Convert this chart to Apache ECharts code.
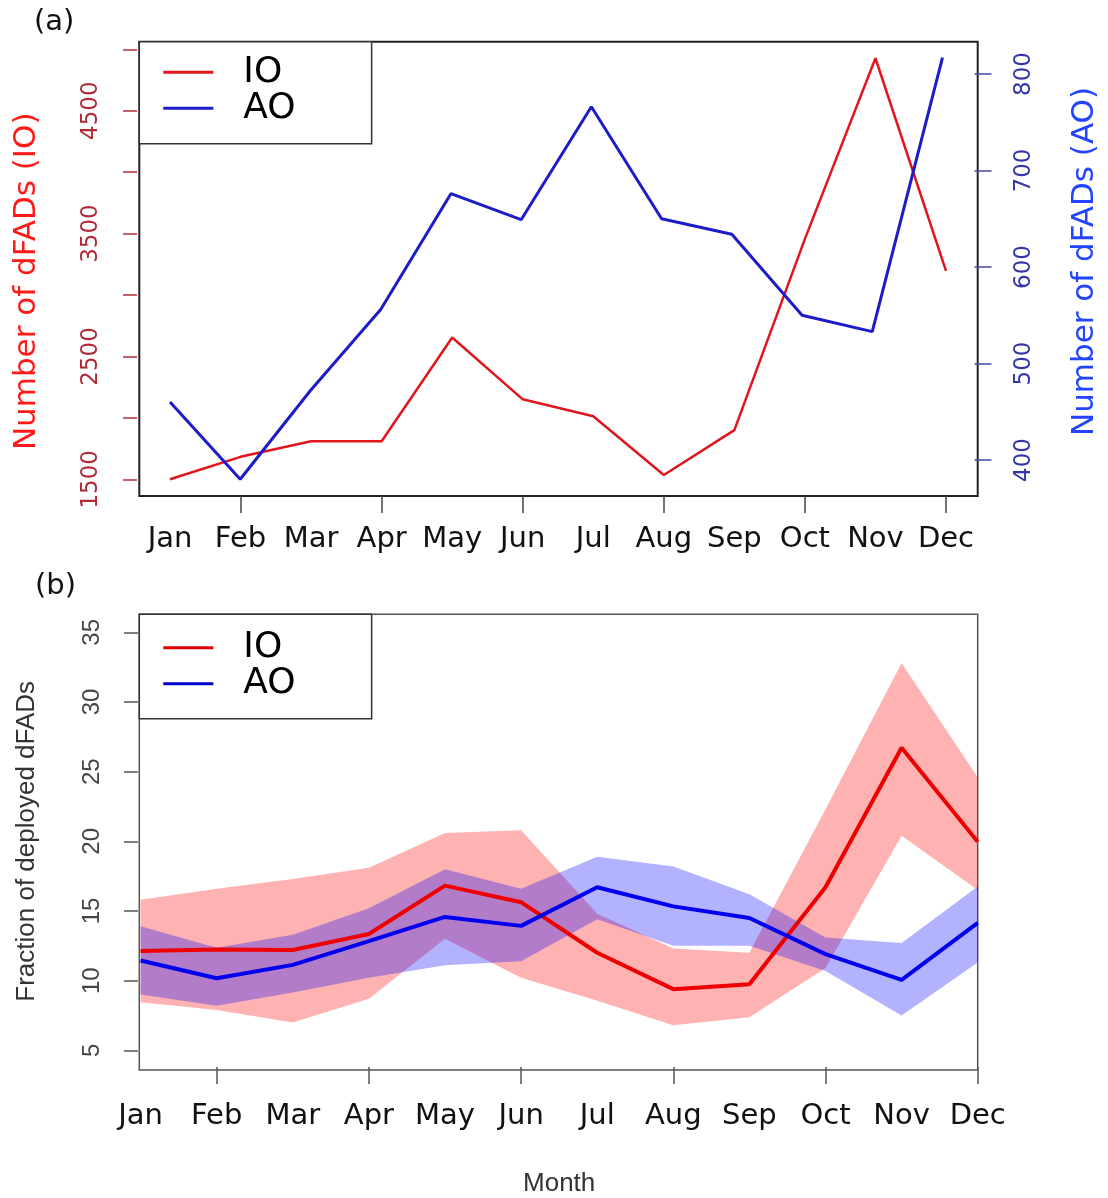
<!DOCTYPE html>
<html><head><meta charset="utf-8">
<script src="https://cdn.jsdelivr.net/npm/echarts@6/dist/echarts.min.js"></script>
<style>html,body{margin:0;padding:0;background:#fff}#c{width:1108px;height:1198px}</style>
</head><body><div id="c"></div>
<script>
// ---- data ----
const months = ['Jan','Feb','Mar','Apr','May','Jun','Jul','Aug','Sep','Oct','Nov','Dec'];
// panel (a): number of deployed dFADs
const ioCount = [1500, 1683, 1810, 1810, 2654, 2151, 2013, 1535, 1900, 3457, 4927, 3197];
const aoCount = [460, 380, 472, 556, 676, 649, 766, 650, 634, 550, 533, 817];
const ioLabelTicks = [1500, 2500, 3500, 4500];
// panel (b): fraction of deployed dFADs (mean and range)
const ioFrac  = [12.12, 12.24, 12.2, 13.35, 16.82, 15.63, 12.0, 9.39, 9.74, 16.7, 26.72, 19.96];
const ioUpper = [15.8, 16.6, 17.3, 18.1, 20.6, 20.8, 14.8, 12.3, 12.0, 22.3, 32.8, 24.6];
const ioLower = [8.44, 7.9, 7.0, 8.7, 13.0, 10.2, 8.56, 6.8, 7.37, 10.9, 20.4, 16.5];
const aoFrac  = [11.45, 10.17, 11.13, 12.83, 14.57, 13.93, 16.7, 15.33, 14.5, 11.9, 10.05, 14.14];
const aoUpper = [13.9, 12.36, 13.3, 15.2, 18.0, 16.6, 18.9, 18.2, 16.2, 13.1, 12.7, 16.75];
const aoLower = [9.0, 8.2, 9.15, 10.2, 11.1, 11.4, 14.4, 12.5, 12.5, 10.7, 7.5, 11.3];

const DJ = 'DejaVu Sans';
const LS = 'Liberation Sans';
const span = (u, l) => u.map((v, i) => +(v - l[i]).toFixed(3));

const chart = echarts.init(document.getElementById('c'), null, {renderer: 'canvas'});

const hiddenAxis = (g) => ({gridIndex: g, type: 'value', show: false});
const oddTicks = (i) => i % 2 === 1;

const option = {
  animation: false,
  backgroundColor: '#fff',
  grid: [
    {left: 139.3, top: 41.7, width: 838.4, height: 454.3, show: true, borderColor: '#222', borderWidth: 2, backgroundColor: 'transparent'},
    {left: 170, top: 49.3, width: 776, height: 430},
    {left: 170, top: 74, width: 776, height: 386},
    {left: 139.3, top: 614.3, width: 838.4, height: 455.7, show: true, borderColor: '#555', borderWidth: 1.5, backgroundColor: 'transparent'},
    {left: 140.6, top: 632.3, width: 837.1, height: 421}
  ],
  xAxis: [
    hiddenAxis(0),
    {gridIndex: 1, type: 'category', data: months, boundaryGap: false, offset: 16.7,
     axisLine: {show: false},
     axisTick: {show: true, interval: oddTicks, length: 17, lineStyle: {color: '#444', width: 1.5}},
     axisLabel: {interval: 0, margin: 29, fontSize: 29, fontFamily: DJ, color: '#111'},
     splitLine: {show: false}},
    {gridIndex: 2, type: 'category', data: months, boundaryGap: false, show: false},
    hiddenAxis(3),
    {gridIndex: 4, type: 'category', data: months, boundaryGap: false, offset: 16.7,
     axisLine: {show: false},
     axisTick: {show: true, interval: oddTicks, length: 17, lineStyle: {color: '#555', width: 1.5}},
     axisLabel: {interval: 0, margin: 35, fontSize: 29, fontFamily: DJ, color: '#111'},
     splitLine: {show: false},
     name: 'Month', nameLocation: 'middle', nameGap: 104,
     nameTextStyle: {fontFamily: LS, fontSize: 26, color: '#333'}}
  ],
  yAxis: [
    hiddenAxis(0),
    {gridIndex: 1, type: 'value', min: 1500, max: 5000, interval: 500, position: 'left', offset: 33,
     axisLine: {show: false}, splitLine: {show: false},
     axisTick: {show: true, length: 14, lineStyle: {color: '#b03038', width: 1.5}},
     axisLabel: {rotate: 90, margin: 34.5, fontSize: 23, fontFamily: DJ, color: '#b02a36',
       formatter: (v) => ioLabelTicks.includes(v) ? String(v) : ''},
     name: 'Number of dFADs (IO)', nameLocation: 'middle', nameRotate: 90, nameGap: 95,
     nameTextStyle: {color: '#ff1a1a', fontSize: 31, fontFamily: DJ, padding: [0, 34, 0, 0]}},
    {gridIndex: 2, type: 'value', min: 400, max: 800, interval: 100, position: 'right', offset: 32,
     axisLine: {show: false}, splitLine: {show: false},
     axisTick: {show: true, length: 17, lineStyle: {color: '#4646a6', width: 1.5}},
     axisLabel: {rotate: 90, margin: 38.5, fontSize: 23, fontFamily: DJ, color: '#3434aa'},
     name: 'Number of dFADs (AO)', nameLocation: 'middle', nameRotate: 90, nameGap: 94.5,
     nameTextStyle: {color: '#2244ff', fontSize: 31, fontFamily: DJ, padding: [0, 0, 0, 11]}},
    hiddenAxis(3),
    {gridIndex: 4, type: 'value', min: 5, max: 35, interval: 5, position: 'left', offset: 2.6,
     axisLine: {show: false}, splitLine: {show: false},
     axisTick: {show: true, length: 14, lineStyle: {color: '#555', width: 1.5}},
     axisLabel: {rotate: 90, margin: 34, fontSize: 24, fontFamily: LS, color: '#444'},
     name: 'Fraction of deployed dFADs', nameLocation: 'middle', nameRotate: 90, nameGap: 98,
     nameTextStyle: {color: '#333', fontSize: 26, fontFamily: LS}}
  ],
  legend: [
    {data: [{name: 'IO', itemStyle: {color: '#e0161c'}}, {name: 'AO', itemStyle: {color: '#1c1cc8'}}],
     orient: 'vertical', left: 139.3, top: 41.7, padding: [12.5, 76, 17.5, 24], itemGap: 0,
     itemWidth: 50, itemHeight: 3, icon: 'rect', borderColor: '#333', borderWidth: 1.5,
     backgroundColor: '#fff', selectedMode: false,
     textStyle: {fontFamily: DJ, fontSize: 36, color: '#000', lineHeight: 33, padding: [0, 0, 0, 25]}},
    {data: [{name: 'IO', itemStyle: {color: '#e00000'}}, {name: 'AO', itemStyle: {color: '#0000cc'}}],
     orient: 'vertical', left: 139.3, top: 614.3, padding: [15.5, 76, 16.9, 24], itemGap: 0,
     itemWidth: 50, itemHeight: 3, icon: 'rect', borderColor: '#333', borderWidth: 1.5,
     backgroundColor: '#fff', selectedMode: false,
     textStyle: {fontFamily: DJ, fontSize: 36, color: '#000', lineHeight: 33, padding: [0, 0, 0, 25]}}
  ],
  graphic: [
    {type: 'text', left: 34, top: 8, style: {text: '(a)', font: '29px "DejaVu Sans"', fill: '#111'}},
    {type: 'text', left: 35, top: 572, style: {text: '(b)', font: '29px "DejaVu Sans"', fill: '#111'}}
  ],
  series: [
    // panel (a)
    {name: 'IO', type: 'line', xAxisIndex: 1, yAxisIndex: 1, data: ioCount, symbol: 'none', clip: false,
     lineStyle: {color: '#e0161c', width: 2.5}, itemStyle: {color: '#e0161c'}},
    {name: 'AO', type: 'line', xAxisIndex: 2, yAxisIndex: 2, data: aoCount, symbol: 'none', clip: false,
     lineStyle: {color: '#1c1cc8', width: 3}, itemStyle: {color: '#1c1cc8'}},
    // panel (b) IO band + line
    {name: 'IO lower', type: 'line', xAxisIndex: 4, yAxisIndex: 4, stack: 'ioBand', data: ioLower,
     symbol: 'none', silent: true, lineStyle: {opacity: 0, width: 0}},
    {name: 'IO range', type: 'line', xAxisIndex: 4, yAxisIndex: 4, stack: 'ioBand', data: span(ioUpper, ioLower),
     symbol: 'none', silent: true, lineStyle: {opacity: 0, width: 0},
     areaStyle: {color: 'rgba(255,0,0,0.3)', opacity: 1}},
    {name: 'IO', type: 'line', xAxisIndex: 4, yAxisIndex: 4, data: ioFrac, symbol: 'none',
     lineStyle: {color: '#ee0000', width: 4}, itemStyle: {color: '#ee0000'}},
    // panel (b) AO band + line
    {name: 'AO lower', type: 'line', xAxisIndex: 4, yAxisIndex: 4, stack: 'aoBand', data: aoLower,
     symbol: 'none', silent: true, lineStyle: {opacity: 0, width: 0}},
    {name: 'AO range', type: 'line', xAxisIndex: 4, yAxisIndex: 4, stack: 'aoBand', data: span(aoUpper, aoLower),
     symbol: 'none', silent: true, lineStyle: {opacity: 0, width: 0},
     areaStyle: {color: 'rgba(0,0,255,0.3)', opacity: 1}},
    {name: 'AO', type: 'line', xAxisIndex: 4, yAxisIndex: 4, data: aoFrac, symbol: 'none',
     lineStyle: {color: '#0000ee', width: 4}, itemStyle: {color: '#0000ee'}}
  ]
};
chart.setOption(option);
</script></body></html>
